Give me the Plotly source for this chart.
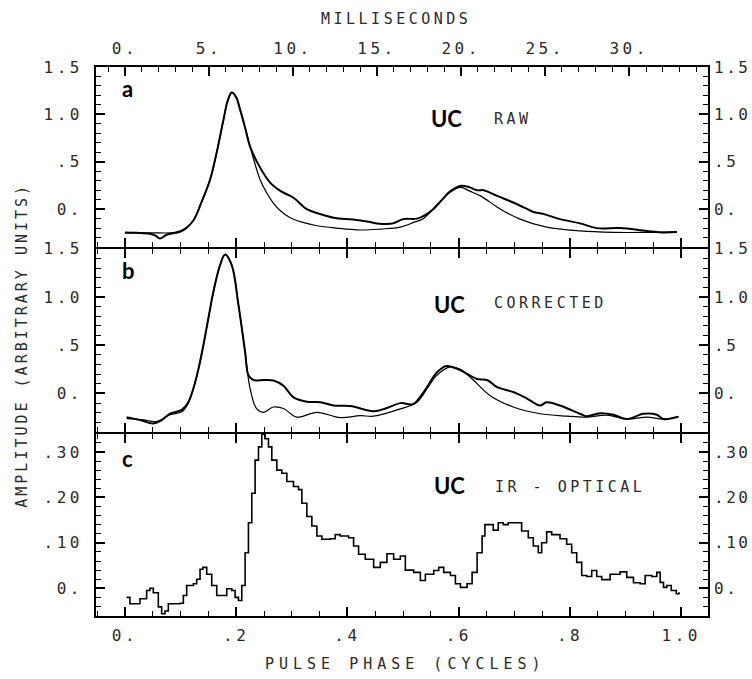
import plotly.graph_objects as go

# ---------------- data ----------------
PERIOD_MS = 33.1

a_raw_phase = [0.0, 0.02, 0.045, 0.055, 0.063, 0.075, 0.099, 0.11, 0.123, 0.138, 0.153, 0.165, 0.177, 0.185,
               0.192, 0.2, 0.207, 0.216, 0.225, 0.24, 0.261, 0.28, 0.303, 0.327, 0.35, 0.375, 0.41, 0.435,
               0.453, 0.482, 0.5, 0.525, 0.54, 0.554, 0.57, 0.585, 0.603, 0.62, 0.633, 0.645, 0.669, 0.698,
               0.72, 0.734, 0.752, 0.782, 0.818, 0.848, 0.89, 0.938, 0.968, 0.992]
a_raw_amp = [-0.245, -0.25, -0.26, -0.28, -0.31, -0.27, -0.24, -0.2, -0.12, 0.08, 0.31, 0.6, 0.94, 1.15,
             1.23, 1.18, 1.05, 0.86, 0.66, 0.47, 0.28, 0.19, 0.12, 0.0, -0.05, -0.09, -0.11, -0.13,
             -0.15, -0.15, -0.105, -0.10, -0.06, 0.0, 0.1, 0.19, 0.245, 0.23, 0.20, 0.20, 0.14, 0.07,
             0.01, -0.03, -0.05, -0.105, -0.15, -0.2, -0.2, -0.23, -0.245, -0.24]

a_fit_phase = [0.0, 0.05, 0.09, 0.11, 0.123, 0.138, 0.153, 0.165, 0.177, 0.185, 0.192, 0.2, 0.207, 0.216,
               0.225, 0.243, 0.255, 0.266, 0.28, 0.297, 0.32, 0.345, 0.38, 0.423, 0.46, 0.495, 0.519,
               0.536, 0.554, 0.57, 0.585, 0.603, 0.62, 0.639, 0.675, 0.71, 0.758, 0.818, 0.878, 0.94, 0.992]
a_fit_amp = [-0.25, -0.25, -0.245, -0.2, -0.12, 0.08, 0.31, 0.6, 0.94, 1.15, 1.23, 1.18, 1.05, 0.86,
             0.66, 0.31, 0.17, 0.07, -0.02, -0.09, -0.14, -0.175, -0.2, -0.22, -0.21, -0.19, -0.14,
             -0.1, 0.0, 0.1, 0.18, 0.23, 0.19, 0.14, 0.0, -0.105, -0.19, -0.23, -0.245, -0.245, -0.24]

b_raw_phase = [0.003, 0.03, 0.05, 0.065, 0.081, 0.102, 0.113, 0.123, 0.132, 0.141, 0.15, 0.159, 0.171, 0.18,
               0.192, 0.204, 0.216, 0.222, 0.231, 0.25, 0.267, 0.285, 0.303, 0.327, 0.351, 0.375, 0.405,
               0.447, 0.471, 0.495, 0.518, 0.537, 0.561, 0.578, 0.603, 0.633, 0.651, 0.669, 0.698, 0.722,
               0.746, 0.758, 0.782, 0.818, 0.83, 0.854, 0.878, 0.902, 0.932, 0.956, 0.968, 0.995]
b_raw_amp = [-0.245, -0.28, -0.31, -0.28, -0.21, -0.17, -0.1, 0.05, 0.25, 0.5, 0.78, 1.055, 1.33, 1.44,
             1.33, 0.92, 0.43, 0.19, 0.14, 0.14, 0.135, 0.08, -0.04, -0.085, -0.09, -0.125, -0.13,
             -0.185, -0.15, -0.10, -0.11, 0.015, 0.22, 0.285, 0.24, 0.15, 0.14, 0.065, 0.015, -0.05,
             -0.125, -0.09, -0.125, -0.21, -0.235, -0.205, -0.22, -0.265, -0.21, -0.22, -0.265, -0.24]

b_fit_phase = [0.003, 0.03, 0.057, 0.081, 0.102, 0.113, 0.123, 0.132, 0.141, 0.15, 0.159, 0.171, 0.18,
               0.192, 0.204, 0.216, 0.225, 0.237, 0.249, 0.267, 0.285, 0.309, 0.345, 0.387, 0.423, 0.447,
               0.495, 0.525, 0.543, 0.561, 0.585, 0.603, 0.627, 0.656, 0.698, 0.746, 0.794, 0.83, 0.866,
               0.902, 0.938, 0.968, 0.995]
b_fit_amp = [-0.26, -0.27, -0.29, -0.22, -0.19, -0.11, 0.05, 0.25, 0.5, 0.78, 1.055, 1.33, 1.44,
             1.33, 0.92, 0.43, 0.05, -0.16, -0.195, -0.14, -0.155, -0.245, -0.195, -0.25, -0.23, -0.235,
             -0.16, -0.09, 0.05, 0.19, 0.275, 0.25, 0.135, -0.02, -0.14, -0.21, -0.235, -0.245, -0.225,
             -0.265, -0.245, -0.265, -0.24]

c_phase = [0.003, 0.009, 0.018, 0.027, 0.039, 0.045, 0.051, 0.06, 0.066, 0.072, 0.078, 0.099, 0.105, 0.111,
           0.123, 0.129, 0.135, 0.14, 0.147, 0.156, 0.165, 0.171, 0.183, 0.192, 0.198, 0.204, 0.21, 0.216,
           0.222, 0.228, 0.234, 0.24, 0.246, 0.252, 0.258, 0.264, 0.273, 0.282, 0.291, 0.303, 0.312, 0.318,
           0.327, 0.336, 0.345, 0.354, 0.369, 0.378, 0.387, 0.402, 0.411, 0.42, 0.432, 0.447, 0.459, 0.471,
           0.483, 0.495, 0.504, 0.519, 0.531, 0.54, 0.555, 0.564, 0.573, 0.585, 0.594, 0.603, 0.615, 0.624,
           0.633, 0.642, 0.647, 0.656, 0.662, 0.671, 0.68, 0.689, 0.701, 0.713, 0.725, 0.734, 0.743, 0.749,
           0.758, 0.767, 0.782, 0.794, 0.803, 0.812, 0.821, 0.83, 0.839, 0.848, 0.857, 0.872, 0.89, 0.902,
           0.914, 0.926, 0.935, 0.947, 0.956, 0.962, 0.968, 0.974, 0.982, 0.991, 0.996]
c_amp = [-0.02, -0.034, -0.034, -0.023, -0.005, 0.0, -0.01, -0.041, -0.056, -0.05, -0.034, -0.033, -0.016, 0.006,
         0.01, 0.02, 0.042, 0.046, 0.031, 0.006, -0.016, -0.016, -0.001, -0.005, -0.02, -0.027, 0.006, 0.078,
         0.144, 0.209, 0.282, 0.311, 0.339, 0.329, 0.311, 0.282, 0.26, 0.253, 0.235, 0.224, 0.217, 0.187,
         0.158, 0.137, 0.115, 0.108, 0.109, 0.118, 0.115, 0.111, 0.093, 0.075, 0.064, 0.046, 0.057, 0.076,
         0.064, 0.071, 0.040, 0.035, 0.017, 0.031, 0.039, 0.046, 0.035, 0.028, 0.01, 0.002, 0.01, 0.035,
         0.078, 0.115, 0.14, 0.14, 0.128, 0.144, 0.14, 0.144, 0.144, 0.126, 0.111, 0.093, 0.078, 0.1,
         0.124, 0.118, 0.109, 0.097, 0.078, 0.057, 0.028, 0.026, 0.039, 0.026, 0.019, 0.031, 0.036, 0.024,
         0.012, 0.01, 0.028, 0.026, 0.035, 0.013, 0.002, 0.006, -0.005, -0.012, -0.009]

phase_ticks = [0, 0.2, 0.4, 0.6, 0.8, 1.0]
phase_labels = ["0.", ".2", ".4", ".6", ".8", "1.0"]
ms_ticks = [0, 5, 10, 15, 20, 25, 30]
ms_labels = ["0.", "5.", "10.", "15.", "20.", "25.", "30."]
ab_ticks = [0, 0.5, 1.0, 1.5]
ab_labels = ["0.", ".5", "1.0", "1.5"]
c_ticks = [0, 0.1, 0.2, 0.3]
c_labels = ["0.", ".10", ".20", ".30"]

# ---------------- figure ----------------
MONO = "DejaVu Sans Mono"
TXT = "#2a2a2a"


def sp(s, ls=3.5):
    return '<span style="letter-spacing:%spx">%s</span>' % (ls, s)


x_range = [-0.052, 1.048]
ab_range = [-0.4, 1.5]
c_range = [-0.061, 0.34]

fig = go.Figure()
line_raw = dict(color="black", width=2)
line_fit = dict(color="black", width=1.2)

fig.add_trace(go.Scatter(x=a_fit_phase, y=a_fit_amp, mode="lines", line=line_fit, line_shape="spline",
                         xaxis="x3", yaxis="y"))
fig.add_trace(go.Scatter(x=a_raw_phase, y=a_raw_amp, mode="lines", line=line_raw, line_shape="spline",
                         xaxis="x3", yaxis="y"))
fig.add_trace(go.Scatter(x=b_fit_phase, y=b_fit_amp, mode="lines", line=line_fit, line_shape="spline",
                         xaxis="x2", yaxis="y2"))
fig.add_trace(go.Scatter(x=b_raw_phase, y=b_raw_amp, mode="lines", line=line_raw, line_shape="spline",
                         xaxis="x2", yaxis="y2"))
fig.add_trace(go.Scatter(x=c_phase, y=c_amp, mode="lines", line=dict(color="black", width=1.6),
                         line_shape="hv", xaxis="x", yaxis="y3"))
# helper (empty) traces so that the mirror axes are drawn
for xa, ya in [("x3", "y4"), ("x2", "y5"), ("x", "y6"), ("x4", "y")]:
    fig.add_trace(go.Scatter(x=[None], y=[None], mode="lines", xaxis=xa, yaxis=ya, hoverinfo="skip"))

tickfont = dict(family=MONO, size=16, color=TXT)
frame = dict(showline=True, linecolor="black", linewidth=1.6, showgrid=False, zeroline=False,
             automargin=False)

# small gaps so that the outward-drawn frame lines of neighbouring panels coincide
dom_c = [0.0, 0.332]
dom_b = [0.335, 0.669]
dom_a = [0.672, 1.0]


def xax(anchor, labels, mirror):
    d = dict(frame, domain=[0, 1], anchor=anchor, range=x_range, ticks="inside", ticklen=9,
             tickwidth=1.5, tickcolor="black", tickvals=phase_ticks, mirror=mirror,
             minor=dict(dtick=0.05, tick0=0, ticks="inside", ticklen=5, tickwidth=1.2, tickcolor="black"))
    if labels:
        d.update(ticktext=[sp(t) for t in phase_labels], tickfont=tickfont, showticklabels=True,
                 ticklabelstandoff=4)
    else:
        d.update(showticklabels=False)
    return d


def yax(dom, rng, vals, labels, mdt, side, anchor, overlay=None):
    d = dict(frame, domain=dom, range=rng, anchor=anchor, side=side, ticks="inside", ticklen=9,
             tickwidth=1.5, tickcolor="black", tickvals=vals, tickfont=tickfont,
             minor=dict(dtick=mdt, tick0=0, ticks="inside", ticklen=5, tickwidth=1.2, tickcolor="black"))
    if side == "left":
        d["ticklabelstandoff"] = 8
        d["ticktext"] = [sp(t) for t in labels]
    else:
        d["ticklabelstandoff"] = 1
        d["ticktext"] = [sp(t, 2.5) for t in labels]
    if overlay:
        d["overlaying"] = overlay
    return d


fig.update_layout(
    width=752, height=679,
    margin=dict(l=96, r=44, t=67, b=63, autoexpand=False),
    paper_bgcolor="white", plot_bgcolor="white",
    showlegend=False,
    xaxis=xax("y3", True, "ticks"),
    xaxis2=xax("y2", False, "ticks"),
    xaxis3=xax("y", False, False),
    xaxis4=dict(frame, domain=[0, 1], anchor="y", overlaying="x3", side="top",
                range=[x_range[0] * PERIOD_MS, x_range[1] * PERIOD_MS],
                ticks="inside", ticklen=9, tickwidth=1.5, tickcolor="black",
                tickvals=ms_ticks, ticktext=[sp(t) for t in ms_labels], tickfont=tickfont,
                ticklabelstandoff=5,
                minor=dict(dtick=1, tick0=0, ticks="inside", ticklen=5, tickwidth=1.2, tickcolor="black")),
    yaxis=yax(dom_a, ab_range, ab_ticks, ab_labels, 0.1, "left", "x3"),
    yaxis2=yax(dom_b, ab_range, ab_ticks, ab_labels, 0.1, "left", "x2"),
    yaxis3=yax(dom_c, c_range, c_ticks, c_labels, 0.02, "left", "x"),
    yaxis4=yax(dom_a, ab_range, ab_ticks, ab_labels, 0.1, "right", "x3", "y"),
    yaxis5=yax(dom_b, ab_range, ab_ticks, ab_labels, 0.1, "right", "x2", "y2"),
    yaxis6=yax(dom_c, c_range, c_ticks, c_labels, 0.02, "right", "x", "y3"),
)

ann_font = dict(family=MONO, size=15, color=TXT)
small_font = dict(family=MONO, size=15, color=TXT)
bold_font = dict(family="Lato", size=22, color="black")

annotations = [
    dict(text=sp("MILLISECONDS", 3.5), x=0.49, y=1.088, font=ann_font),
    dict(text=sp("PULSE PHASE (CYCLES)", 5), x=0.505, y=-0.087, font=ann_font),
    dict(text=sp("AMPLITUDE (ARBITRARY UNITS)", 3), x=-0.121, y=0.494, font=ann_font, textangle=-90),
    dict(text="<b>a</b>", x=0.0507, y=0.960, font=bold_font),
    dict(text="<b>b</b>", x=0.0523, y=0.630, font=bold_font),
    dict(text="<b>c</b>", x=0.0507, y=0.287, font=bold_font),
    dict(text="<b>UC</b>", x=0.5735, y=0.907, font=bold_font),
    dict(text="<b>UC</b>", x=0.578, y=0.5665, font=bold_font),
    dict(text="<b>UC</b>", x=0.577, y=0.2368, font=bold_font),
    dict(text=sp("RAW", 3.5), x=0.647, y=0.905, font=small_font, xanchor="left"),
    dict(text=sp("CORRECTED", 3.5), x=0.647, y=0.570, font=small_font, xanchor="left"),
    dict(text=sp("IR - OPTICAL", 3.5), x=0.649, y=0.235, font=small_font, xanchor="left"),
]
for a in annotations:
    a.setdefault("xanchor", "center")
    a.update(xref="paper", yref="paper", showarrow=False, yanchor="middle")
fig.update_layout(annotations=annotations)

# remove the browser's default 8px body margin so the 752x679 figure fills the window exactly
fig.write_html("out.html", config={"displayModeBar": False},
               post_script="document.body.style.margin='0';document.body.style.overflow='hidden';")
